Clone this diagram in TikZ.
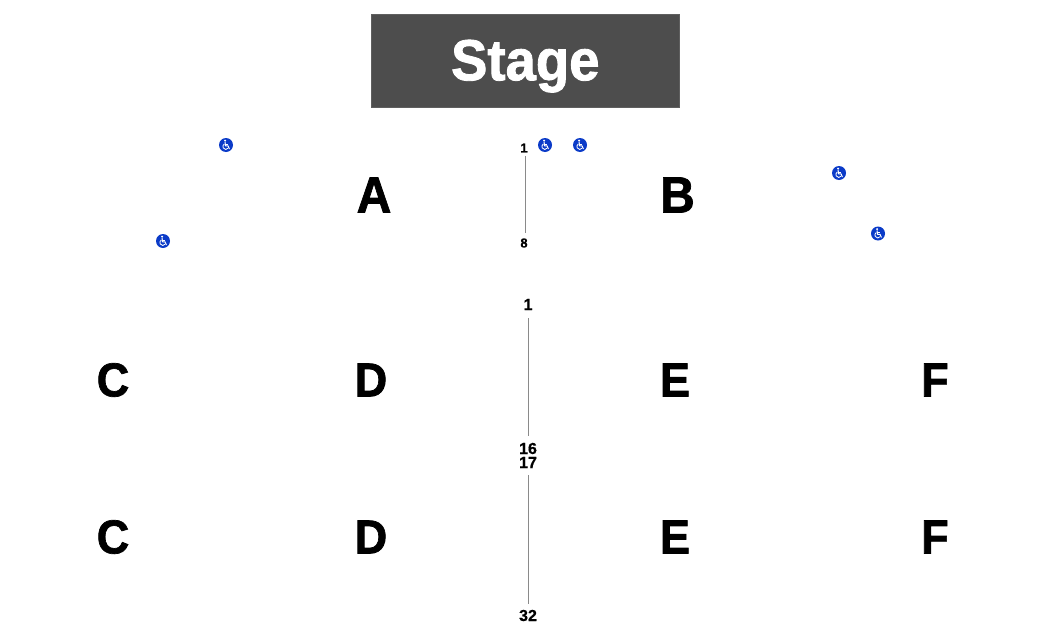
\documentclass[tikz,border=0pt]{standalone}
\usepackage{fontspec}
\setmainfont{Liberation Sans}
\newfontfamily\heavyfont[BoldFeatures={FakeBold=1.5}]{Liberation Sans}
\newfontfamily\numfont[BoldFeatures={FakeBold=0.6}]{Liberation Sans}
\newcommand{\tallbox}[1]{\scalebox{1}[1.06]{#1}}
\tikzset{
  px/.style={x=1pt,y=-1pt},
  stagebox/.style={fill=stagegray,draw=stagegray!90!white,line width=0.6pt,minimum width=308pt,minimum height=93.5pt,inner sep=0pt,text=white,font=\heavyfont\fontsize{54.5}{55}\bfseries\selectfont},
  seclabel/.style={inner sep=0pt,font=\heavyfont\fontsize{45}{50}\bfseries\selectfont,text=black},
  toplabel/.style={inner sep=0pt,font=\heavyfont\fontsize{48}{50}\bfseries\selectfont,text=black},
  rownum/.style={inner sep=0pt,font=\numfont\fontsize{16}{16}\bfseries\selectfont,text=black},
  rownumsmall/.style={inner sep=0pt,font=\numfont\fontsize{13}{13}\bfseries\selectfont,text=black},
  rowline/.style={draw=linegray,line width=1pt},
  adacircle/.style={circle,fill=adablue,minimum size=14pt,inner sep=0pt},
}
\definecolor{stagegray}{HTML}{4D4D4D}
\definecolor{linegray}{HTML}{8A8A8A}
\definecolor{adablue}{HTML}{0B3BC8}
\newcommand{\adaicon}[3]{%
  \node[adacircle] (#1) at (#2,#3) {};
  \begin{scope}[shift={(#1.center)},x=1pt,y=-1pt]
    \fill[white] (-0.9,-4.4) circle (1.05);
    \draw[white,line width=1pt,line cap=round,line join=round] (-0.9,-2.8) -- (-0.5,0.8) -- (2,0.8) -- (3.3,3.7);
    \draw[white,line width=0.8pt] (-0.6,-1) -- (1.8,-1);
    \draw[white,line width=0.85pt] (-1.7,-1) arc[start angle=240,end angle=35,radius=2.9];
  \end{scope}}
\begin{document}
\begin{tikzpicture}[px]
\useasboundingbox (0,0) rectangle (1050,640);
\node[stagebox] (stage) at (525.3,60.8) {\raisebox{-19.4pt}[0pt][0pt]{\tallbox{Stage}}};
\node[toplabel] (A) at (374,195) {\tallbox{A}};
\node[toplabel] (B) at (677.5,195) {\tallbox{B}};
\node[seclabel] (C1) at (113,380) {\tallbox{C}};
\node[seclabel] (D1) at (371,380) {\tallbox{D}};
\node[seclabel] (E1) at (675,380) {\tallbox{E}};
\node[seclabel] (F1) at (935,380) {\tallbox{F}};
\node[seclabel] (C2) at (113,537) {\tallbox{C}};
\node[seclabel] (D2) at (371,537) {\tallbox{D}};
\node[seclabel] (E2) at (675,537) {\tallbox{E}};
\node[seclabel] (F2) at (935,537) {\tallbox{F}};
\node[rownumsmall] (ra1) at (524,148) {1};
\node[rownumsmall] (ra8) at (524,243) {8};
\node[rownum] (rd1) at (528,304.5) {1};
\node[rownum] (rd16) at (528,448.5) {16};
\node[rownum] (rd17) at (528,462.5) {17};
\node[rownum] (rd32) at (528,615.5) {32};
\draw[rowline] ([xshift=1.2pt,yshift=-3.5pt]ra1.south) -- ([xshift=1.2pt,yshift=5pt]ra8.north);
\draw[rowline] ([xshift=0.4pt,yshift=-8pt]rd1.south) -- ([xshift=0.4pt,yshift=7pt]rd16.north);
\draw[rowline] ([xshift=0.4pt,yshift=-7pt]rd17.south) -- ([xshift=0.4pt,yshift=6pt]rd32.north);
\adaicon{w1}{226}{145}
\adaicon{w2}{163}{241}
\adaicon{w3}{545}{145}
\adaicon{w4}{580}{145}
\adaicon{w5}{839}{173}
\adaicon{w6}{878}{233.5}
\end{tikzpicture}
\end{document}
